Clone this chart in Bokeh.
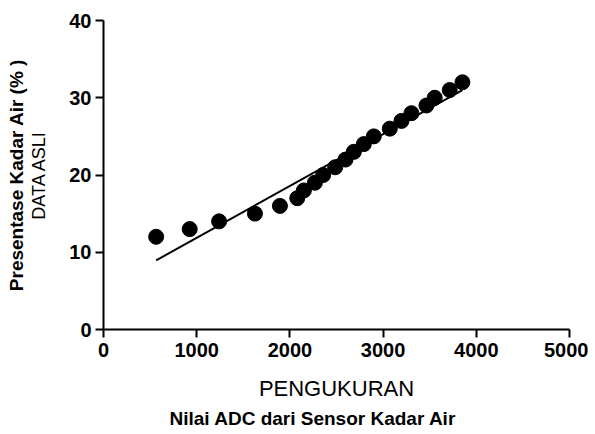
import numpy as np
from bokeh.plotting import figure
from bokeh.models import Range1d, FixedTicker, Title
from bokeh.embed import file_html
from bokeh.resources import INLINE

# ADC readings (x) and water content percentage (y)
adc_values = [565, 925, 1240, 1625, 1893, 2079, 2150, 2268, 2357, 2486, 2597,
              2686, 2793, 2900, 3072, 3197, 3304, 3465, 3554, 3715, 3851]
moisture_pct = [12, 13, 14, 15, 16, 17, 18, 19, 20, 21, 22,
                23, 24, 25, 26, 27, 28, 29, 30, 31, 32]

x_ticks = [0, 1000, 2000, 3000, 4000, 5000]
y_ticks = [0, 10, 20, 30, 40]

FONT = "Liberation Sans"

p = figure(width=588, height=432, output_backend="svg", toolbar_location=None,
           x_range=Range1d(0, 5000), y_range=Range1d(0, 40),
           min_border_left=103, min_border_right=19, min_border_top=20,
           min_border_bottom=103)
p.outline_line_color = None
p.grid.visible = False
p.background_fill_color = "white"
p.border_fill_color = "white"

# linear regression line over the data span
slope, intercept = np.polyfit(adc_values, moisture_pct, 1)
lx = np.array([min(adc_values), max(adc_values)])
p.line(lx, slope * lx + intercept, line_color="black", line_width=2)

p.scatter(adc_values, moisture_pct, size=15, fill_color="black", line_color="black")

for ax in (p.xaxis[0], p.yaxis[0]):
    ax.axis_line_width = 2
    ax.axis_line_color = "black"
    ax.major_tick_line_width = 2
    ax.major_tick_line_color = "black"
    ax.major_tick_in = 0
    ax.major_tick_out = 8
    ax.minor_tick_line_color = None
    ax.major_label_text_font = FONT
    ax.major_label_text_font_style = "bold"
    ax.major_label_text_font_size = "20px"
    ax.major_label_text_color = "black"
    ax.axis_label_text_font = FONT
    ax.axis_label_text_font_style = "normal"
    ax.axis_label_text_color = "black"

p.xaxis[0].ticker = FixedTicker(ticks=x_ticks)
p.yaxis[0].ticker = FixedTicker(ticks=y_ticks)
p.xaxis[0].major_label_standoff = 5
p.yaxis[0].major_label_standoff = 4

p.xaxis[0].axis_label = "PENGUKURAN"
p.xaxis[0].axis_label_text_font_size = "22px"
p.xaxis[0].axis_label_standoff = 16

p.yaxis[0].axis_label = "DATA ASLI"
p.yaxis[0].axis_label_text_font_size = "18px"
p.yaxis[0].axis_label_standoff = 17

p.add_layout(Title(text="Nilai ADC dari Sensor Kadar Air", align="left", offset=66,
                   text_font=FONT, text_font_style="bold", text_font_size="19px",
                   text_color="black", standoff=4), "below")
p.add_layout(Title(text="Presentase Kadar Air (% )", align="center",
                   text_font=FONT, text_font_style="bold", text_font_size="19px",
                   text_color="black", standoff=0), "left")

open("out.html", "w").write(file_html(p, INLINE))
